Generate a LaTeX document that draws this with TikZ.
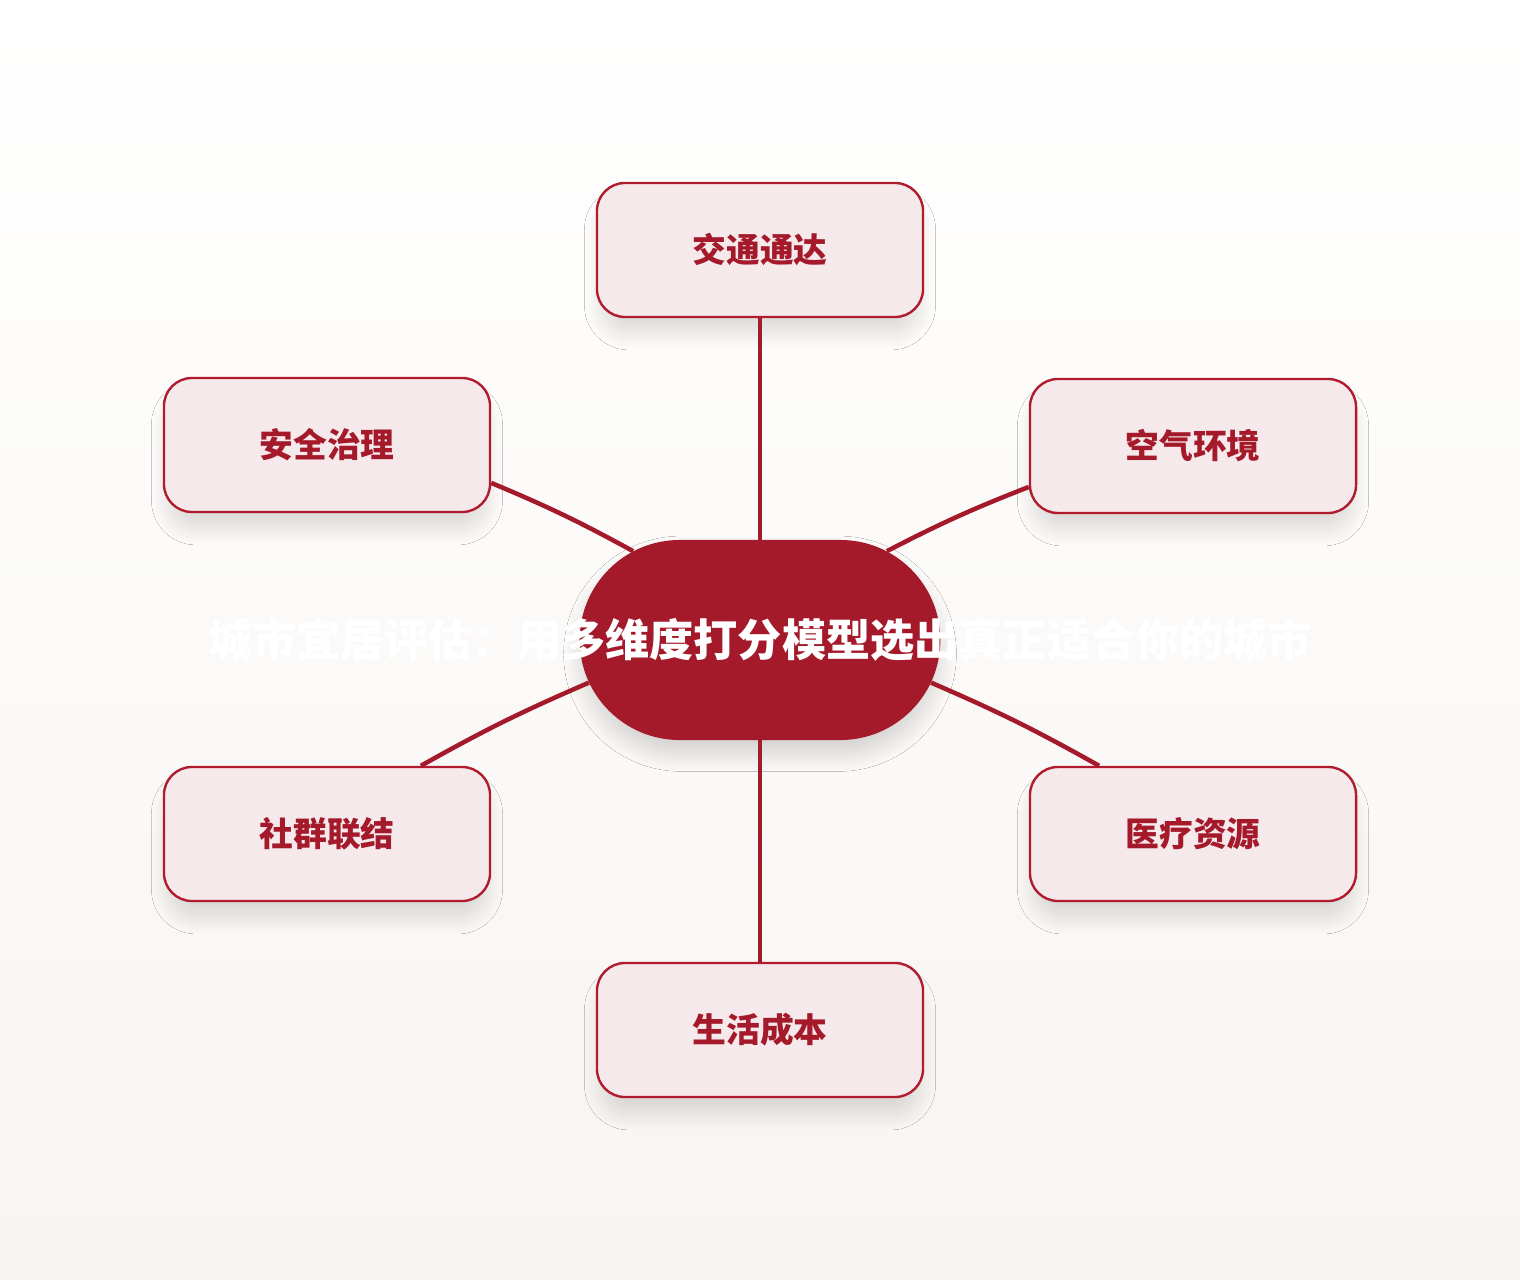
\documentclass[tikz,border=0pt]{standalone}
\usepackage{fontspec}
\newfontfamily\cjk{Noto Sans CJK SC}
\usetikzlibrary{shapes.misc,shadows.blur}
\definecolor{darkred}{HTML}{A51A2B}
\definecolor{edgered}{HTML}{B01C2E}
\definecolor{boxpink}{HTML}{F5E9EB}

\begin{document}
\begin{tikzpicture}[x=0.025cm, y=-0.025cm,
  topic/.style={draw=edgered, line width=1.7pt, fill=boxpink, rounded corners=0.7cm,
    minimum width=8.15cm, minimum height=3.35cm, text=darkred,
    font=\cjk\bfseries\fontsize{24}{28}\selectfont,
    blur shadow={shadow xshift=0pt, shadow yshift=-0.45cm, shadow blur radius=0.45cm,
      shadow blur steps=30, shadow opacity=14, shadow scale=0.97}},
  hub/.style={rounded rectangle, fill=darkred, minimum width=9.25cm, minimum height=5cm,
    blur shadow={shadow xshift=0pt, shadow yshift=-0.35cm, shadow blur radius=0.5cm,
      shadow blur steps=30, shadow opacity=18, shadow scale=0.98}},
  link/.style={draw=darkred, line width=3.2pt}]
\useasboundingbox (0,0) rectangle (1520,1280);
\shade [top color=white!60!white, bottom color={rgb,255:red,247;green,245;blue,241}] (0,0) rectangle (1520,1280);

\node [hub, label={[text=white, font=\cjk\bfseries\fontsize{31.4}{36}\selectfont]center:城市宜居评估：用多维度打分模型选出真正适合你的城市}] (city) at (760,640) {};

\node [topic] (traffic) at (760,250) {交通通达};
\node [topic] (safety) at (327,445) {安全治理};
\node [topic] (air) at (1193,446) {空气环境};
\node [topic] (social) at (327,834) {社群联结};
\node [topic] (health) at (1193,834) {医疗资源};
\node [topic] (cost) at (760,1030) {生活成本};

% spokes
\draw [link] (traffic) -- (city);
\draw [link] (safety.-13) to [bend left=3] (city.145);
\draw [link] (air.194) to [bend right=3] (city.35);
\draw [link] (social.36) to [bend left=3] (city.194);
\draw [link] (health.144) to [bend right=3] (city.-14);
\draw [link] (city) -- (cost);
\end{tikzpicture}
\end{document}
